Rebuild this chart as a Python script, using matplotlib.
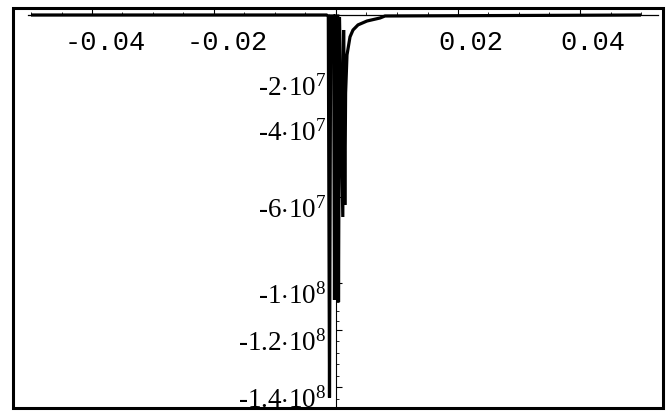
import numpy as np
import matplotlib
matplotlib.use("Agg")
import matplotlib.pyplot as plt
from matplotlib.ticker import FixedLocator, MultipleLocator
from matplotlib.transforms import ScaledTranslation
from matplotlib.patches import Rectangle

# ---------------- data ----------------
x_vals = [-0.0500, -0.001557, -0.001262, -0.001066, -0.000869, -0.000393,
          -0.000246, -0.000115, 0.000295, 0.000410, 0.000574, 0.001115,
          0.001246, 0.001443, 0.001574, 0.001803, 0.002295, 0.002787,
          0.003607, 0.005082, 0.007213, 0.008033, 0.0500]
y_vals = [0.0, 0.0, -3.3e5, -1.435e8, -3.3e5, -3.3e5,
          -1.072e8, -3.3e5, -3.3e5, -1.081e8, -6.7e5, -6.93e7,
          -5.0e6, -6.37e7, -2.8e7, -1.33e7, -7.3e6, -5.0e6,
          -3.3e6, -2.0e6, -1.0e6, -3.3e5, 0.0]

x_ticks = [-0.04, -0.02, 0.02, 0.04]
x_tick_labels = ["-0.04", "-0.02", "0.02", "0.04"]
y_ticks = [-2e7, -4e7, -6e7, -1e8, -1.2e8, -1.4e8]
y_tick_labels = [r"-$2{\cdot}10^{7}$", r"-$4{\cdot}10^{7}$", r"-$6{\cdot}10^{7}$",
                 r"-$1{\cdot}10^{8}$", r"-$1.2{\cdot}10^{8}$", r"-$1.4{\cdot}10^{8}$"]

# ---------------- vertical scale of the original (uneven) ----------------
scale_vals = np.array([-1.47e8, -1.4e8, -1.2e8, -1e8, -6e7, -4e7, -2e7, 0.0, 2.33e6])
scale_pos = np.array([-408.0, -387.0, -330.0, -283.0, -197.0, -120.0, -75.0, -15.0, -8.0])


def _pw(v, xp, fp):
    v = np.asarray(v, dtype=float)
    out = np.interp(v, xp, fp)
    lo = v < xp[0]
    hi = v > xp[-1]
    s0 = (fp[1] - fp[0]) / (xp[1] - xp[0])
    s1 = (fp[-1] - fp[-2]) / (xp[-1] - xp[-2])
    out = np.where(lo, fp[0] + (v - xp[0]) * s0, out)
    out = np.where(hi, fp[-1] + (v - xp[-1]) * s1, out)
    return out


def fwd(v):
    return _pw(v, scale_vals, scale_pos)


def inv(u):
    return _pw(u, scale_pos, scale_vals)


plt.rcParams['mathtext.fontset'] = 'custom'
plt.rcParams['mathtext.rm'] = 'Liberation Serif'
plt.rcParams['mathtext.it'] = 'Liberation Serif:italic'
plt.rcParams['mathtext.bf'] = 'Liberation Serif:bold'

W, H = 669, 411
fig = plt.figure(figsize=(W / 100, H / 100), dpi=100)
fig.patch.set_facecolor('white')

L, R, T, B = 13, 663, 8, 408
ax = fig.add_axes([L / W, (H - B) / H, (R - L) / W, (B - T) / H])
ax.set_yscale('function', functions=(fwd, inv))

ax.plot(x_vals, y_vals, color='black', lw=2.3, solid_joinstyle='miter',
        solid_capstyle='butt', zorder=3)

ax.set_xlim((L - 336) / 6100, (R - 336) / 6100)
ax.set_ylim(-1.47e8, 2.33e6)

for s in ['top', 'right']:
    ax.spines[s].set_visible(False)
ax.spines['bottom'].set_position(('data', 0))
ax.spines['left'].set_position(('data', 0))
ax.spines['bottom'].set_bounds(-0.0505, 0.0528)
ax.spines['bottom'].set_linewidth(0.9)
ax.spines['left'].set_linewidth(0.8)

ax.xaxis.set_major_locator(FixedLocator(x_ticks))
ax.set_xticklabels(x_tick_labels)
ax.xaxis.set_minor_locator(MultipleLocator(0.005))
ax.yaxis.set_major_locator(FixedLocator(y_ticks))
ax.set_yticklabels(y_tick_labels)
ax.yaxis.set_minor_locator(MultipleLocator(4e6))

ax.tick_params(axis='x', which='major', direction='in', length=4, width=0.8, pad=11)
ax.tick_params(axis='x', which='minor', direction='in', length=2.5, width=0.6)
ax.tick_params(axis='y', which='major', direction='in', length=4, width=0.8, pad=7)
ax.tick_params(axis='y', which='minor', direction='in', length=2.5, width=0.6)

for lab in ax.get_xticklabels():
    lab.set_fontfamily('Liberation Mono')
    lab.set_fontsize(19.5)
    lab.set_transform(lab.get_transform() + ScaledTranslation(13 / 100, 0, fig.dpi_scale_trans))
for lab in ax.get_yticklabels():
    lab.set_fontfamily('Liberation Serif')
    lab.set_fontsize(19.5)
    lab.set_transform(lab.get_transform() + ScaledTranslation(0, -10 / 100, fig.dpi_scale_trans))

frame = Rectangle((L / W, (H - B) / H), (R - L) / W, (B - T) / H, transform=fig.transFigure,
                  fill=False, edgecolor='black', linewidth=2.2, zorder=10)
fig.patches.append(frame)

fig.savefig('out.png', dpi=100)
